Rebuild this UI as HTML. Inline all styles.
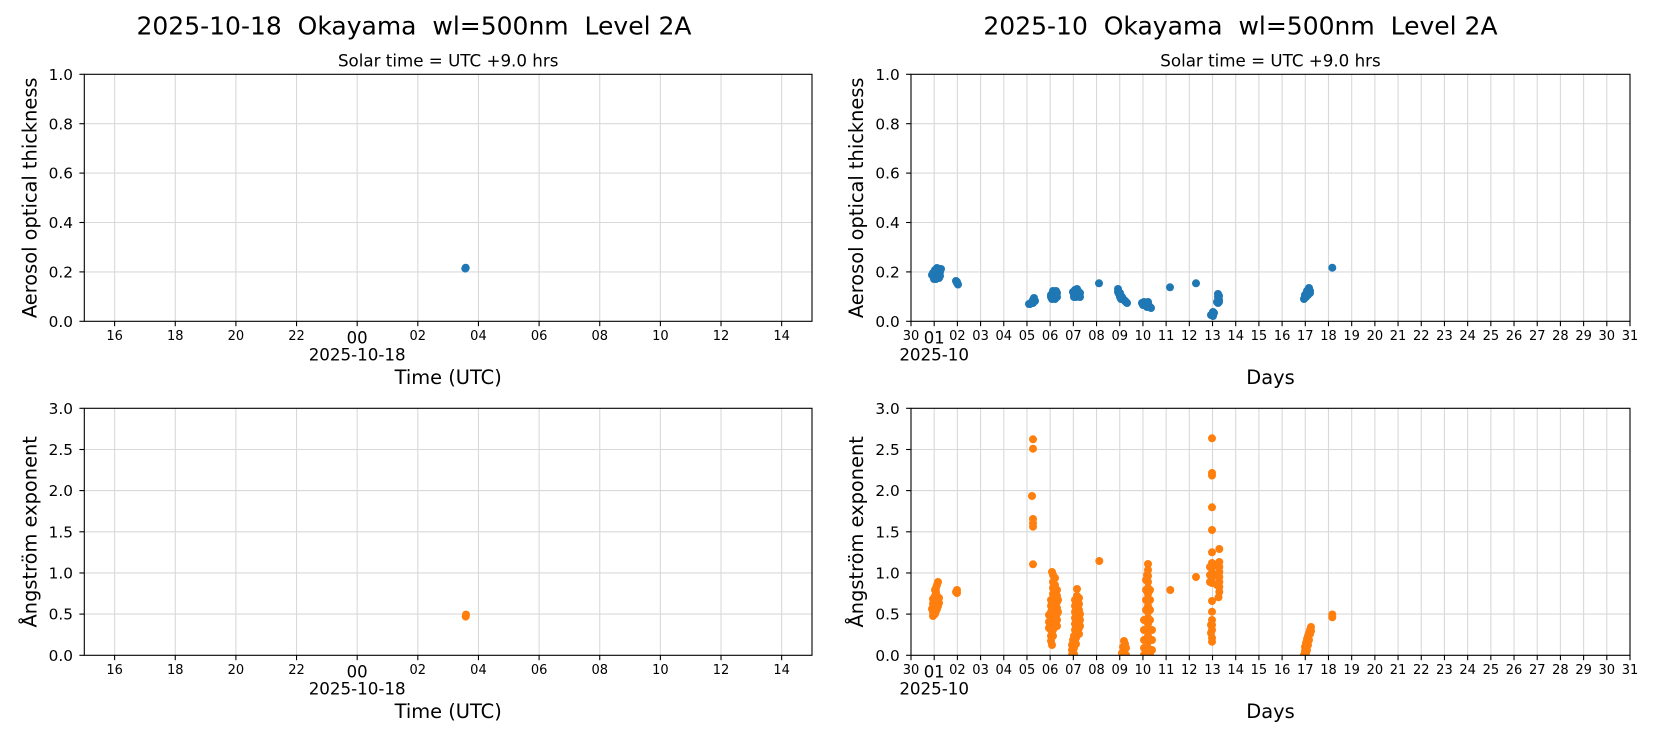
<!DOCTYPE html>
<html><head><meta charset="utf-8"><style>
html,body{margin:0;padding:0;background:#fff;}
svg{display:block;}
text{font-family:"DejaVu Sans","Liberation Sans",sans-serif;fill:#000;}
.s{font-size:13px;text-anchor:middle;}
.m{font-size:16.5px;text-anchor:middle;}
.d{font-size:16.7px;text-anchor:middle;}
.y{font-size:15.3px;text-anchor:end;}
.al{font-size:19.4px;text-anchor:middle;}
.st{font-size:16.7px;text-anchor:middle;}
.t{font-size:25px;text-anchor:middle;}
.g line{stroke:#d9d9d9;stroke-width:1.1;}
.k line{stroke:#000;stroke-width:1.1;}
.sp{fill:none;stroke:#000;stroke-width:1.1;}
</style></head><body>
<svg width="1654" height="737" viewBox="0 0 1654 737" xmlns="http://www.w3.org/2000/svg">
<defs>
<clipPath id="cTL"><rect x="84.3" y="74.3" width="727.7" height="247"/></clipPath>
<clipPath id="cTR"><rect x="911" y="74.3" width="719" height="247"/></clipPath>
<clipPath id="cBL"><rect x="84.3" y="408.3" width="727.7" height="247"/></clipPath>
<clipPath id="cBR"><rect x="911" y="408.3" width="719" height="247"/></clipPath>
</defs>

<text class="t" x="414" y="34.3" xml:space="preserve">2025-10-18  Okayama  wl=500nm  Level 2A</text>
<text class="t" x="1240.5" y="34.3" xml:space="preserve">2025-10  Okayama  wl=500nm  Level 2A</text>
<text class="st" x="448.2" y="66.7">Solar time = UTC +9.0 hrs</text>
<text class="st" x="1270.5" y="66.7">Solar time = UTC +9.0 hrs</text>

<g class="g">
<line x1="114.62" y1="74.3" x2="114.62" y2="321.3"/><line x1="175.26" y1="74.3" x2="175.26" y2="321.3"/><line x1="235.9" y1="74.3" x2="235.9" y2="321.3"/><line x1="296.54" y1="74.3" x2="296.54" y2="321.3"/><line x1="357.18" y1="74.3" x2="357.18" y2="321.3"/><line x1="417.82" y1="74.3" x2="417.82" y2="321.3"/><line x1="478.46" y1="74.3" x2="478.46" y2="321.3"/><line x1="539.1" y1="74.3" x2="539.1" y2="321.3"/><line x1="599.74" y1="74.3" x2="599.74" y2="321.3"/><line x1="660.38" y1="74.3" x2="660.38" y2="321.3"/><line x1="721.02" y1="74.3" x2="721.02" y2="321.3"/><line x1="781.66" y1="74.3" x2="781.66" y2="321.3"/>
<line x1="114.62" y1="408.3" x2="114.62" y2="655.3"/><line x1="175.26" y1="408.3" x2="175.26" y2="655.3"/><line x1="235.9" y1="408.3" x2="235.9" y2="655.3"/><line x1="296.54" y1="408.3" x2="296.54" y2="655.3"/><line x1="357.18" y1="408.3" x2="357.18" y2="655.3"/><line x1="417.82" y1="408.3" x2="417.82" y2="655.3"/><line x1="478.46" y1="408.3" x2="478.46" y2="655.3"/><line x1="539.1" y1="408.3" x2="539.1" y2="655.3"/><line x1="599.74" y1="408.3" x2="599.74" y2="655.3"/><line x1="660.38" y1="408.3" x2="660.38" y2="655.3"/><line x1="721.02" y1="408.3" x2="721.02" y2="655.3"/><line x1="781.66" y1="408.3" x2="781.66" y2="655.3"/>
<line x1="84.3" y1="271.9" x2="812" y2="271.9"/><line x1="84.3" y1="222.5" x2="812" y2="222.5"/><line x1="84.3" y1="173.1" x2="812" y2="173.1"/><line x1="84.3" y1="123.7" x2="812" y2="123.7"/>
<line x1="84.3" y1="614.1" x2="812" y2="614.1"/><line x1="84.3" y1="572.97" x2="812" y2="572.97"/><line x1="84.3" y1="531.8" x2="812" y2="531.8"/><line x1="84.3" y1="490.6" x2="812" y2="490.6"/><line x1="84.3" y1="449.5" x2="812" y2="449.5"/>
<line x1="911" y1="271.9" x2="1630" y2="271.9"/><line x1="911" y1="222.5" x2="1630" y2="222.5"/><line x1="911" y1="173.1" x2="1630" y2="173.1"/><line x1="911" y1="123.7" x2="1630" y2="123.7"/>
<line x1="911" y1="614.1" x2="1630" y2="614.1"/><line x1="911" y1="572.97" x2="1630" y2="572.97"/><line x1="911" y1="531.8" x2="1630" y2="531.8"/><line x1="911" y1="490.6" x2="1630" y2="490.6"/><line x1="911" y1="449.5" x2="1630" y2="449.5"/>
<line x1="934.19" y1="74.3" x2="934.19" y2="321.3"/><line x1="957.39" y1="74.3" x2="957.39" y2="321.3"/><line x1="980.58" y1="74.3" x2="980.58" y2="321.3"/><line x1="1003.77" y1="74.3" x2="1003.77" y2="321.3"/><line x1="1026.97" y1="74.3" x2="1026.97" y2="321.3"/><line x1="1050.16" y1="74.3" x2="1050.16" y2="321.3"/><line x1="1073.35" y1="74.3" x2="1073.35" y2="321.3"/><line x1="1096.55" y1="74.3" x2="1096.55" y2="321.3"/><line x1="1119.74" y1="74.3" x2="1119.74" y2="321.3"/><line x1="1142.94" y1="74.3" x2="1142.94" y2="321.3"/><line x1="1166.13" y1="74.3" x2="1166.13" y2="321.3"/><line x1="1189.32" y1="74.3" x2="1189.32" y2="321.3"/><line x1="1212.52" y1="74.3" x2="1212.52" y2="321.3"/><line x1="1235.71" y1="74.3" x2="1235.71" y2="321.3"/><line x1="1258.9" y1="74.3" x2="1258.9" y2="321.3"/><line x1="1282.1" y1="74.3" x2="1282.1" y2="321.3"/><line x1="1305.29" y1="74.3" x2="1305.29" y2="321.3"/><line x1="1328.48" y1="74.3" x2="1328.48" y2="321.3"/><line x1="1351.68" y1="74.3" x2="1351.68" y2="321.3"/><line x1="1374.87" y1="74.3" x2="1374.87" y2="321.3"/><line x1="1398.06" y1="74.3" x2="1398.06" y2="321.3"/><line x1="1421.26" y1="74.3" x2="1421.26" y2="321.3"/><line x1="1444.45" y1="74.3" x2="1444.45" y2="321.3"/><line x1="1467.65" y1="74.3" x2="1467.65" y2="321.3"/><line x1="1490.84" y1="74.3" x2="1490.84" y2="321.3"/><line x1="1514.03" y1="74.3" x2="1514.03" y2="321.3"/><line x1="1537.23" y1="74.3" x2="1537.23" y2="321.3"/><line x1="1560.42" y1="74.3" x2="1560.42" y2="321.3"/><line x1="1583.61" y1="74.3" x2="1583.61" y2="321.3"/><line x1="1606.81" y1="74.3" x2="1606.81" y2="321.3"/>
<line x1="934.19" y1="408.3" x2="934.19" y2="655.3"/><line x1="957.39" y1="408.3" x2="957.39" y2="655.3"/><line x1="980.58" y1="408.3" x2="980.58" y2="655.3"/><line x1="1003.77" y1="408.3" x2="1003.77" y2="655.3"/><line x1="1026.97" y1="408.3" x2="1026.97" y2="655.3"/><line x1="1050.16" y1="408.3" x2="1050.16" y2="655.3"/><line x1="1073.35" y1="408.3" x2="1073.35" y2="655.3"/><line x1="1096.55" y1="408.3" x2="1096.55" y2="655.3"/><line x1="1119.74" y1="408.3" x2="1119.74" y2="655.3"/><line x1="1142.94" y1="408.3" x2="1142.94" y2="655.3"/><line x1="1166.13" y1="408.3" x2="1166.13" y2="655.3"/><line x1="1189.32" y1="408.3" x2="1189.32" y2="655.3"/><line x1="1212.52" y1="408.3" x2="1212.52" y2="655.3"/><line x1="1235.71" y1="408.3" x2="1235.71" y2="655.3"/><line x1="1258.9" y1="408.3" x2="1258.9" y2="655.3"/><line x1="1282.1" y1="408.3" x2="1282.1" y2="655.3"/><line x1="1305.29" y1="408.3" x2="1305.29" y2="655.3"/><line x1="1328.48" y1="408.3" x2="1328.48" y2="655.3"/><line x1="1351.68" y1="408.3" x2="1351.68" y2="655.3"/><line x1="1374.87" y1="408.3" x2="1374.87" y2="655.3"/><line x1="1398.06" y1="408.3" x2="1398.06" y2="655.3"/><line x1="1421.26" y1="408.3" x2="1421.26" y2="655.3"/><line x1="1444.45" y1="408.3" x2="1444.45" y2="655.3"/><line x1="1467.65" y1="408.3" x2="1467.65" y2="655.3"/><line x1="1490.84" y1="408.3" x2="1490.84" y2="655.3"/><line x1="1514.03" y1="408.3" x2="1514.03" y2="655.3"/><line x1="1537.23" y1="408.3" x2="1537.23" y2="655.3"/><line x1="1560.42" y1="408.3" x2="1560.42" y2="655.3"/><line x1="1583.61" y1="408.3" x2="1583.61" y2="655.3"/><line x1="1606.81" y1="408.3" x2="1606.81" y2="655.3"/>
</g>

<g fill="#1f77b4" clip-path="url(#cTL)">
<circle cx="465.7" cy="267.7" r="4"/><circle cx="465.3" cy="268.6" r="4"/>
</g>
<g fill="#ff7f0e" clip-path="url(#cBL)">
<circle cx="465.7" cy="616.6" r="4"/><circle cx="466" cy="614.6" r="4"/>
</g>

<g fill="#1f77b4" clip-path="url(#cTR)">
<circle cx="933" cy="273" r="4"/><circle cx="934" cy="276" r="4"/><circle cx="935" cy="270" r="4"/><circle cx="936" cy="274" r="4"/><circle cx="937" cy="277" r="4"/><circle cx="938" cy="271" r="4"/><circle cx="939" cy="269" r="4"/><circle cx="940" cy="272" r="4"/><circle cx="936" cy="279" r="4"/><circle cx="939" cy="278" r="4"/><circle cx="932" cy="275" r="4"/><circle cx="941" cy="269" r="4"/><circle cx="934" cy="279" r="4"/><circle cx="938" cy="275" r="4"/><circle cx="937" cy="268" r="4"/><circle cx="940" cy="276" r="4"/>
<circle cx="956" cy="281" r="4"/><circle cx="957" cy="283" r="4"/><circle cx="958" cy="284.5" r="4"/><circle cx="957" cy="282" r="4"/>
<circle cx="1030" cy="304" r="4"/><circle cx="1032" cy="302" r="4"/><circle cx="1033" cy="300" r="4"/><circle cx="1034" cy="298" r="4"/><circle cx="1035" cy="301" r="4"/><circle cx="1033" cy="303" r="4"/><circle cx="1031" cy="303" r="4"/><circle cx="1029" cy="304" r="4"/>
<circle cx="1051" cy="297" r="4"/><circle cx="1052" cy="294" r="4"/><circle cx="1053" cy="291" r="4"/><circle cx="1054" cy="295" r="4"/><circle cx="1055" cy="292" r="4"/><circle cx="1056" cy="296" r="4"/><circle cx="1057" cy="293" r="4"/><circle cx="1053" cy="298" r="4"/><circle cx="1055" cy="299" r="4"/><circle cx="1057" cy="297" r="4"/><circle cx="1052" cy="299" r="4"/><circle cx="1051" cy="295" r="4"/><circle cx="1054" cy="292" r="4"/><circle cx="1056" cy="291" r="4"/>
<circle cx="1073" cy="292" r="4"/><circle cx="1074" cy="295" r="4"/><circle cx="1075" cy="290" r="4"/><circle cx="1076" cy="293" r="4"/><circle cx="1077" cy="296" r="4"/><circle cx="1078" cy="291" r="4"/><circle cx="1079" cy="294" r="4"/><circle cx="1080" cy="297" r="4"/><circle cx="1076" cy="297" r="4"/><circle cx="1074" cy="297" r="4"/><circle cx="1077" cy="289" r="4"/><circle cx="1080" cy="293" r="4"/>
<circle cx="1099" cy="283.3" r="4"/>
<circle cx="1118" cy="289" r="4"/><circle cx="1118" cy="292" r="4"/><circle cx="1119" cy="294" r="4"/><circle cx="1120" cy="293" r="4"/><circle cx="1121" cy="296" r="4"/><circle cx="1122" cy="297" r="4"/><circle cx="1123" cy="299" r="4"/><circle cx="1124" cy="300" r="4"/><circle cx="1125" cy="301" r="4"/><circle cx="1126" cy="302" r="4"/><circle cx="1127" cy="303" r="4"/><circle cx="1121" cy="299" r="4"/><circle cx="1120" cy="297" r="4"/>
<circle cx="1142" cy="303" r="4"/><circle cx="1144" cy="302" r="4"/><circle cx="1146" cy="303" r="4"/><circle cx="1148" cy="304" r="4"/><circle cx="1149" cy="306" r="4"/><circle cx="1150" cy="307" r="4"/><circle cx="1151" cy="308" r="4"/><circle cx="1147" cy="307" r="4"/><circle cx="1145" cy="305" r="4"/><circle cx="1143" cy="305" r="4"/><circle cx="1148" cy="302" r="4"/>
<circle cx="1170" cy="287.3" r="4"/><circle cx="1196" cy="283.3" r="4"/>
<circle cx="1212" cy="315" r="4"/><circle cx="1213" cy="312" r="4"/><circle cx="1213" cy="316" r="4"/><circle cx="1211" cy="315" r="4"/><circle cx="1214" cy="313" r="4"/>
<circle cx="1218" cy="294" r="4"/><circle cx="1218" cy="297" r="4"/><circle cx="1219" cy="300" r="4"/><circle cx="1218" cy="303" r="4"/><circle cx="1219" cy="302" r="4"/><circle cx="1217" cy="302" r="4"/><circle cx="1219" cy="296" r="4"/>
<circle cx="1304" cy="299" r="4"/><circle cx="1305" cy="297" r="4"/><circle cx="1305" cy="295" r="4"/><circle cx="1306" cy="294" r="4"/><circle cx="1307" cy="293" r="4"/><circle cx="1307" cy="291" r="4"/><circle cx="1308" cy="290" r="4"/><circle cx="1309" cy="289" r="4"/><circle cx="1309" cy="288" r="4"/><circle cx="1310" cy="291" r="4"/><circle cx="1308" cy="295" r="4"/><circle cx="1306" cy="297" r="4"/><circle cx="1310" cy="293" r="4"/>
<circle cx="1332.3" cy="267.7" r="4"/>
</g>

<g fill="#ff7f0e" clip-path="url(#cBR)">
<circle cx="933" cy="616" r="4"/><circle cx="933" cy="612" r="4"/><circle cx="934" cy="608" r="4"/><circle cx="933" cy="604" r="4"/><circle cx="934" cy="600" r="4"/><circle cx="935" cy="596" r="4"/><circle cx="936" cy="592" r="4"/><circle cx="936" cy="588" r="4"/><circle cx="937" cy="585" r="4"/><circle cx="938" cy="582" r="4"/><circle cx="937" cy="596" r="4"/><circle cx="938" cy="600" r="4"/><circle cx="939" cy="603" r="4"/><circle cx="938" cy="606" r="4"/><circle cx="935" cy="614" r="4"/><circle cx="936" cy="611" r="4"/><circle cx="934" cy="602" r="4"/><circle cx="935" cy="590" r="4"/><circle cx="936" cy="605" r="4"/><circle cx="937" cy="609" r="4"/><circle cx="932" cy="609" r="4"/><circle cx="933" cy="599" r="4"/><circle cx="939" cy="598" r="4"/>
<circle cx="957" cy="590" r="4"/><circle cx="957" cy="593" r="4"/><circle cx="956" cy="592" r="4"/>
<circle cx="1033" cy="439.3" r="4"/><circle cx="1033" cy="448.7" r="4"/><circle cx="1032" cy="496" r="4"/><circle cx="1033" cy="519" r="4"/><circle cx="1033" cy="523.3" r="4"/><circle cx="1033" cy="526.7" r="4"/><circle cx="1033" cy="564.3" r="4"/>
<circle cx="1051" cy="600" r="4"/><circle cx="1051" cy="606" r="4"/><circle cx="1051" cy="612" r="4"/><circle cx="1051" cy="618" r="4"/><circle cx="1051" cy="624" r="4"/><circle cx="1051" cy="630" r="4"/><circle cx="1051" cy="636" r="4"/><circle cx="1051" cy="641" r="4"/>
<circle cx="1053" cy="575" r="4"/><circle cx="1053" cy="582" r="4"/><circle cx="1053" cy="588" r="4"/><circle cx="1053" cy="594" r="4"/><circle cx="1053" cy="600" r="4"/><circle cx="1053" cy="606" r="4"/><circle cx="1053" cy="612" r="4"/><circle cx="1053" cy="618" r="4"/><circle cx="1053" cy="624" r="4"/><circle cx="1053" cy="630" r="4"/><circle cx="1053" cy="636" r="4"/>
<circle cx="1055" cy="578" r="4"/><circle cx="1055" cy="585" r="4"/><circle cx="1055" cy="591" r="4"/><circle cx="1055" cy="597" r="4"/><circle cx="1055" cy="603" r="4"/><circle cx="1055" cy="609" r="4"/><circle cx="1055" cy="615" r="4"/><circle cx="1055" cy="621" r="4"/><circle cx="1055" cy="627" r="4"/>
<circle cx="1057" cy="590" r="4"/><circle cx="1057" cy="596" r="4"/><circle cx="1057" cy="602" r="4"/><circle cx="1057" cy="608" r="4"/><circle cx="1057" cy="614" r="4"/><circle cx="1057" cy="620" r="4"/><circle cx="1057" cy="626" r="4"/>
<circle cx="1052" cy="572" r="4"/><circle cx="1052" cy="645" r="4"/><circle cx="1049" cy="615" r="4"/><circle cx="1049" cy="622" r="4"/><circle cx="1049" cy="628" r="4"/><circle cx="1058" cy="600" r="4"/><circle cx="1058" cy="612" r="4"/>
<circle cx="1077" cy="589" r="4"/><circle cx="1077" cy="596" r="4"/>
<circle cx="1075" cy="600" r="4"/><circle cx="1075" cy="606" r="4"/><circle cx="1075" cy="612" r="4"/><circle cx="1075" cy="618" r="4"/><circle cx="1075" cy="624" r="4"/><circle cx="1075" cy="630" r="4"/>
<circle cx="1077" cy="602" r="4"/><circle cx="1077" cy="608" r="4"/><circle cx="1077" cy="614" r="4"/><circle cx="1077" cy="620" r="4"/><circle cx="1077" cy="626" r="4"/><circle cx="1077" cy="632" r="4"/>
<circle cx="1079" cy="598" r="4"/><circle cx="1079" cy="604" r="4"/><circle cx="1079" cy="610" r="4"/><circle cx="1079" cy="616" r="4"/><circle cx="1079" cy="622" r="4"/><circle cx="1079" cy="628" r="4"/><circle cx="1079" cy="634" r="4"/>
<circle cx="1080" cy="614" r="4"/><circle cx="1080" cy="620" r="4"/><circle cx="1080" cy="626" r="4"/>
<circle cx="1074" cy="636" r="4"/><circle cx="1074" cy="642" r="4"/><circle cx="1074" cy="648" r="4"/><circle cx="1074" cy="654" r="4"/><circle cx="1072" cy="645" r="4"/><circle cx="1072" cy="650" r="4"/><circle cx="1072" cy="655" r="4"/><circle cx="1076" cy="638" r="4"/><circle cx="1076" cy="644" r="4"/><circle cx="1073" cy="640" r="4"/>
<circle cx="1099.3" cy="561" r="4"/>
<circle cx="1124" cy="641" r="4"/><circle cx="1125" cy="644" r="4"/><circle cx="1123" cy="647" r="4"/><circle cx="1124" cy="650" r="4"/><circle cx="1122" cy="653" r="4"/><circle cx="1126" cy="648" r="4"/><circle cx="1124" cy="655" r="4"/><circle cx="1126" cy="655" r="4"/>
<circle cx="1148" cy="564" r="4"/><circle cx="1148" cy="570" r="4"/><circle cx="1148" cy="576" r="4"/><circle cx="1148" cy="582" r="4"/><circle cx="1148" cy="588" r="4"/><circle cx="1148" cy="594" r="4"/><circle cx="1148" cy="600" r="4"/><circle cx="1148" cy="606" r="4"/><circle cx="1148" cy="612" r="4"/><circle cx="1148" cy="618" r="4"/><circle cx="1148" cy="624" r="4"/><circle cx="1148" cy="630" r="4"/><circle cx="1148" cy="636" r="4"/><circle cx="1148" cy="642" r="4"/><circle cx="1148" cy="648" r="4"/><circle cx="1148" cy="654" r="4"/>
<circle cx="1146" cy="580" r="4"/><circle cx="1146" cy="590" r="4"/><circle cx="1146" cy="600" r="4"/><circle cx="1146" cy="610" r="4"/><circle cx="1146" cy="620" r="4"/><circle cx="1146" cy="630" r="4"/><circle cx="1146" cy="640" r="4"/><circle cx="1146" cy="650" r="4"/><circle cx="1146" cy="655" r="4"/>
<circle cx="1150" cy="590" r="4"/><circle cx="1150" cy="600" r="4"/><circle cx="1150" cy="610" r="4"/><circle cx="1150" cy="620" r="4"/><circle cx="1150" cy="630" r="4"/><circle cx="1150" cy="640" r="4"/><circle cx="1150" cy="650" r="4"/><circle cx="1150" cy="655" r="4"/>
<circle cx="1144" cy="620" r="4"/><circle cx="1144" cy="630" r="4"/><circle cx="1144" cy="640" r="4"/><circle cx="1144" cy="648" r="4"/><circle cx="1144" cy="655" r="4"/><circle cx="1152" cy="630" r="4"/><circle cx="1152" cy="640" r="4"/><circle cx="1152" cy="650" r="4"/><circle cx="1147" cy="575" r="4"/>
<circle cx="1170.3" cy="590" r="4"/><circle cx="1196" cy="577" r="4"/>
<circle cx="1212" cy="438.3" r="4"/><circle cx="1212" cy="473" r="4"/><circle cx="1212" cy="475.5" r="4"/><circle cx="1212" cy="507.3" r="4"/><circle cx="1212" cy="530" r="4"/><circle cx="1212" cy="552.3" r="4"/><circle cx="1212" cy="563" r="4"/><circle cx="1212" cy="568" r="4"/><circle cx="1212" cy="573" r="4"/><circle cx="1212" cy="578" r="4"/><circle cx="1212" cy="583" r="4"/><circle cx="1212" cy="601" r="4"/><circle cx="1212" cy="611.7" r="4"/><circle cx="1212" cy="620" r="4"/><circle cx="1212" cy="625" r="4"/><circle cx="1212" cy="630" r="4"/><circle cx="1212" cy="638" r="4"/><circle cx="1212" cy="641.7" r="4"/>
<circle cx="1210" cy="567" r="4"/><circle cx="1210" cy="575" r="4"/><circle cx="1210" cy="582" r="4"/><circle cx="1211" cy="625" r="4"/><circle cx="1211" cy="633" r="4"/>
<circle cx="1219.3" cy="549" r="4"/><circle cx="1219.3" cy="562" r="4"/><circle cx="1219.3" cy="567" r="4"/><circle cx="1219.3" cy="572" r="4"/><circle cx="1219.3" cy="577" r="4"/><circle cx="1219.3" cy="582" r="4"/><circle cx="1219.3" cy="587" r="4"/><circle cx="1219.3" cy="592" r="4"/><circle cx="1218.5" cy="597.3" r="4"/><circle cx="1217" cy="565" r="4"/><circle cx="1217" cy="575" r="4"/><circle cx="1217" cy="585" r="4"/>
<circle cx="1304" cy="655" r="4"/><circle cx="1305" cy="651" r="4"/><circle cx="1305" cy="647" r="4"/><circle cx="1306" cy="643" r="4"/><circle cx="1307" cy="639" r="4"/><circle cx="1308" cy="636" r="4"/><circle cx="1309" cy="633" r="4"/><circle cx="1310" cy="630" r="4"/><circle cx="1311" cy="627" r="4"/><circle cx="1310" cy="634" r="4"/><circle cx="1309" cy="640" r="4"/><circle cx="1308" cy="645" r="4"/><circle cx="1307" cy="650" r="4"/><circle cx="1306" cy="653" r="4"/><circle cx="1311" cy="631" r="4"/>
<circle cx="1332.3" cy="617.3" r="4"/><circle cx="1332.3" cy="614.5" r="4"/>
</g>

<rect class="sp" x="84.3" y="74.3" width="727.7" height="247"/>
<rect class="sp" x="911" y="74.3" width="719" height="247"/>
<rect class="sp" x="84.3" y="408.3" width="727.7" height="247"/>
<rect class="sp" x="911" y="408.3" width="719" height="247"/>

<g class="k">
<line x1="79.4" y1="321.3" x2="84.3" y2="321.3"/><line x1="79.4" y1="271.9" x2="84.3" y2="271.9"/><line x1="79.4" y1="222.5" x2="84.3" y2="222.5"/><line x1="79.4" y1="173.1" x2="84.3" y2="173.1"/><line x1="79.4" y1="123.7" x2="84.3" y2="123.7"/><line x1="79.4" y1="74.3" x2="84.3" y2="74.3"/>
<line x1="906.1" y1="321.3" x2="911" y2="321.3"/><line x1="906.1" y1="271.9" x2="911" y2="271.9"/><line x1="906.1" y1="222.5" x2="911" y2="222.5"/><line x1="906.1" y1="173.1" x2="911" y2="173.1"/><line x1="906.1" y1="123.7" x2="911" y2="123.7"/><line x1="906.1" y1="74.3" x2="911" y2="74.3"/>
<line x1="79.4" y1="655.3" x2="84.3" y2="655.3"/><line x1="79.4" y1="614.1" x2="84.3" y2="614.1"/><line x1="79.4" y1="572.97" x2="84.3" y2="572.97"/><line x1="79.4" y1="531.8" x2="84.3" y2="531.8"/><line x1="79.4" y1="490.6" x2="84.3" y2="490.6"/><line x1="79.4" y1="449.5" x2="84.3" y2="449.5"/><line x1="79.4" y1="408.3" x2="84.3" y2="408.3"/>
<line x1="906.1" y1="655.3" x2="911" y2="655.3"/><line x1="906.1" y1="614.1" x2="911" y2="614.1"/><line x1="906.1" y1="572.97" x2="911" y2="572.97"/><line x1="906.1" y1="531.8" x2="911" y2="531.8"/><line x1="906.1" y1="490.6" x2="911" y2="490.6"/><line x1="906.1" y1="449.5" x2="911" y2="449.5"/><line x1="906.1" y1="408.3" x2="911" y2="408.3"/>
<line x1="114.62" y1="321.3" x2="114.62" y2="326.2"/><line x1="175.26" y1="321.3" x2="175.26" y2="326.2"/><line x1="235.9" y1="321.3" x2="235.9" y2="326.2"/><line x1="296.54" y1="321.3" x2="296.54" y2="326.2"/><line x1="357.18" y1="321.3" x2="357.18" y2="326.2"/><line x1="417.82" y1="321.3" x2="417.82" y2="326.2"/><line x1="478.46" y1="321.3" x2="478.46" y2="326.2"/><line x1="539.1" y1="321.3" x2="539.1" y2="326.2"/><line x1="599.74" y1="321.3" x2="599.74" y2="326.2"/><line x1="660.38" y1="321.3" x2="660.38" y2="326.2"/><line x1="721.02" y1="321.3" x2="721.02" y2="326.2"/><line x1="781.66" y1="321.3" x2="781.66" y2="326.2"/>
<line x1="114.62" y1="655.3" x2="114.62" y2="660.2"/><line x1="175.26" y1="655.3" x2="175.26" y2="660.2"/><line x1="235.9" y1="655.3" x2="235.9" y2="660.2"/><line x1="296.54" y1="655.3" x2="296.54" y2="660.2"/><line x1="357.18" y1="655.3" x2="357.18" y2="660.2"/><line x1="417.82" y1="655.3" x2="417.82" y2="660.2"/><line x1="478.46" y1="655.3" x2="478.46" y2="660.2"/><line x1="539.1" y1="655.3" x2="539.1" y2="660.2"/><line x1="599.74" y1="655.3" x2="599.74" y2="660.2"/><line x1="660.38" y1="655.3" x2="660.38" y2="660.2"/><line x1="721.02" y1="655.3" x2="721.02" y2="660.2"/><line x1="781.66" y1="655.3" x2="781.66" y2="660.2"/>
<line x1="911" y1="321.3" x2="911" y2="326.2"/><line x1="934.19" y1="321.3" x2="934.19" y2="326.2"/><line x1="957.39" y1="321.3" x2="957.39" y2="326.2"/><line x1="980.58" y1="321.3" x2="980.58" y2="326.2"/><line x1="1003.77" y1="321.3" x2="1003.77" y2="326.2"/><line x1="1026.97" y1="321.3" x2="1026.97" y2="326.2"/><line x1="1050.16" y1="321.3" x2="1050.16" y2="326.2"/><line x1="1073.35" y1="321.3" x2="1073.35" y2="326.2"/><line x1="1096.55" y1="321.3" x2="1096.55" y2="326.2"/><line x1="1119.74" y1="321.3" x2="1119.74" y2="326.2"/><line x1="1142.94" y1="321.3" x2="1142.94" y2="326.2"/><line x1="1166.13" y1="321.3" x2="1166.13" y2="326.2"/><line x1="1189.32" y1="321.3" x2="1189.32" y2="326.2"/><line x1="1212.52" y1="321.3" x2="1212.52" y2="326.2"/><line x1="1235.71" y1="321.3" x2="1235.71" y2="326.2"/><line x1="1258.9" y1="321.3" x2="1258.9" y2="326.2"/><line x1="1282.1" y1="321.3" x2="1282.1" y2="326.2"/><line x1="1305.29" y1="321.3" x2="1305.29" y2="326.2"/><line x1="1328.48" y1="321.3" x2="1328.48" y2="326.2"/><line x1="1351.68" y1="321.3" x2="1351.68" y2="326.2"/><line x1="1374.87" y1="321.3" x2="1374.87" y2="326.2"/><line x1="1398.06" y1="321.3" x2="1398.06" y2="326.2"/><line x1="1421.26" y1="321.3" x2="1421.26" y2="326.2"/><line x1="1444.45" y1="321.3" x2="1444.45" y2="326.2"/><line x1="1467.65" y1="321.3" x2="1467.65" y2="326.2"/><line x1="1490.84" y1="321.3" x2="1490.84" y2="326.2"/><line x1="1514.03" y1="321.3" x2="1514.03" y2="326.2"/><line x1="1537.23" y1="321.3" x2="1537.23" y2="326.2"/><line x1="1560.42" y1="321.3" x2="1560.42" y2="326.2"/><line x1="1583.61" y1="321.3" x2="1583.61" y2="326.2"/><line x1="1606.81" y1="321.3" x2="1606.81" y2="326.2"/><line x1="1630" y1="321.3" x2="1630" y2="326.2"/>
<line x1="911" y1="655.3" x2="911" y2="660.2"/><line x1="934.19" y1="655.3" x2="934.19" y2="660.2"/><line x1="957.39" y1="655.3" x2="957.39" y2="660.2"/><line x1="980.58" y1="655.3" x2="980.58" y2="660.2"/><line x1="1003.77" y1="655.3" x2="1003.77" y2="660.2"/><line x1="1026.97" y1="655.3" x2="1026.97" y2="660.2"/><line x1="1050.16" y1="655.3" x2="1050.16" y2="660.2"/><line x1="1073.35" y1="655.3" x2="1073.35" y2="660.2"/><line x1="1096.55" y1="655.3" x2="1096.55" y2="660.2"/><line x1="1119.74" y1="655.3" x2="1119.74" y2="660.2"/><line x1="1142.94" y1="655.3" x2="1142.94" y2="660.2"/><line x1="1166.13" y1="655.3" x2="1166.13" y2="660.2"/><line x1="1189.32" y1="655.3" x2="1189.32" y2="660.2"/><line x1="1212.52" y1="655.3" x2="1212.52" y2="660.2"/><line x1="1235.71" y1="655.3" x2="1235.71" y2="660.2"/><line x1="1258.9" y1="655.3" x2="1258.9" y2="660.2"/><line x1="1282.1" y1="655.3" x2="1282.1" y2="660.2"/><line x1="1305.29" y1="655.3" x2="1305.29" y2="660.2"/><line x1="1328.48" y1="655.3" x2="1328.48" y2="660.2"/><line x1="1351.68" y1="655.3" x2="1351.68" y2="660.2"/><line x1="1374.87" y1="655.3" x2="1374.87" y2="660.2"/><line x1="1398.06" y1="655.3" x2="1398.06" y2="660.2"/><line x1="1421.26" y1="655.3" x2="1421.26" y2="660.2"/><line x1="1444.45" y1="655.3" x2="1444.45" y2="660.2"/><line x1="1467.65" y1="655.3" x2="1467.65" y2="660.2"/><line x1="1490.84" y1="655.3" x2="1490.84" y2="660.2"/><line x1="1514.03" y1="655.3" x2="1514.03" y2="660.2"/><line x1="1537.23" y1="655.3" x2="1537.23" y2="660.2"/><line x1="1560.42" y1="655.3" x2="1560.42" y2="660.2"/><line x1="1583.61" y1="655.3" x2="1583.61" y2="660.2"/><line x1="1606.81" y1="655.3" x2="1606.81" y2="660.2"/><line x1="1630" y1="655.3" x2="1630" y2="660.2"/>
</g>

<text class="y" x="73" y="326.9">0.0</text><text class="y" x="73" y="277.5">0.2</text><text class="y" x="73" y="228.1">0.4</text><text class="y" x="73" y="178.7">0.6</text><text class="y" x="73" y="129.3">0.8</text><text class="y" x="73" y="79.9">1.0</text>
<text class="y" x="899.7" y="326.9">0.0</text><text class="y" x="899.7" y="277.5">0.2</text><text class="y" x="899.7" y="228.1">0.4</text><text class="y" x="899.7" y="178.7">0.6</text><text class="y" x="899.7" y="129.3">0.8</text><text class="y" x="899.7" y="79.9">1.0</text>
<text class="y" x="73" y="660.9">0.0</text><text class="y" x="73" y="619.7">0.5</text><text class="y" x="73" y="578.6">1.0</text><text class="y" x="73" y="537.4">1.5</text><text class="y" x="73" y="496.2">2.0</text><text class="y" x="73" y="455.1">2.5</text><text class="y" x="73" y="413.9">3.0</text>
<text class="y" x="899.7" y="660.9">0.0</text><text class="y" x="899.7" y="619.7">0.5</text><text class="y" x="899.7" y="578.6">1.0</text><text class="y" x="899.7" y="537.4">1.5</text><text class="y" x="899.7" y="496.2">2.0</text><text class="y" x="899.7" y="455.1">2.5</text><text class="y" x="899.7" y="413.9">3.0</text>

<text class="s" x="114.62" y="340">16</text><text class="s" x="175.26" y="340">18</text><text class="s" x="235.9" y="340">20</text><text class="s" x="296.54" y="340">22</text><text class="m" x="357.18" y="343.5">00</text><text class="s" x="417.82" y="340">02</text><text class="s" x="478.46" y="340">04</text><text class="s" x="539.1" y="340">06</text><text class="s" x="599.74" y="340">08</text><text class="s" x="660.38" y="340">10</text><text class="s" x="721.02" y="340">12</text><text class="s" x="781.66" y="340">14</text>
<text class="d" x="357.18" y="360.3">2025-10-18</text>
<text class="al" x="448.2" y="384">Time (UTC)</text>
<text class="s" x="114.62" y="674">16</text><text class="s" x="175.26" y="674">18</text><text class="s" x="235.9" y="674">20</text><text class="s" x="296.54" y="674">22</text><text class="m" x="357.18" y="677.5">00</text><text class="s" x="417.82" y="674">02</text><text class="s" x="478.46" y="674">04</text><text class="s" x="539.1" y="674">06</text><text class="s" x="599.74" y="674">08</text><text class="s" x="660.38" y="674">10</text><text class="s" x="721.02" y="674">12</text><text class="s" x="781.66" y="674">14</text>
<text class="d" x="357.18" y="694.3">2025-10-18</text>
<text class="al" x="448.2" y="718">Time (UTC)</text>

<text class="s" x="911" y="340">30</text><text class="m" x="934.19" y="343.5">01</text><text class="s" x="957.39" y="340">02</text><text class="s" x="980.58" y="340">03</text><text class="s" x="1003.77" y="340">04</text><text class="s" x="1026.97" y="340">05</text><text class="s" x="1050.16" y="340">06</text><text class="s" x="1073.35" y="340">07</text><text class="s" x="1096.55" y="340">08</text><text class="s" x="1119.74" y="340">09</text><text class="s" x="1142.94" y="340">10</text><text class="s" x="1166.13" y="340">11</text><text class="s" x="1189.32" y="340">12</text><text class="s" x="1212.52" y="340">13</text><text class="s" x="1235.71" y="340">14</text><text class="s" x="1258.9" y="340">15</text><text class="s" x="1282.1" y="340">16</text><text class="s" x="1305.29" y="340">17</text><text class="s" x="1328.48" y="340">18</text><text class="s" x="1351.68" y="340">19</text><text class="s" x="1374.87" y="340">20</text><text class="s" x="1398.06" y="340">21</text><text class="s" x="1421.26" y="340">22</text><text class="s" x="1444.45" y="340">23</text><text class="s" x="1467.65" y="340">24</text><text class="s" x="1490.84" y="340">25</text><text class="s" x="1514.03" y="340">26</text><text class="s" x="1537.23" y="340">27</text><text class="s" x="1560.42" y="340">28</text><text class="s" x="1583.61" y="340">29</text><text class="s" x="1606.81" y="340">30</text><text class="s" x="1630" y="340">31</text>
<text class="d" x="934.19" y="360.3">2025-10</text>
<text class="al" x="1270.5" y="384">Days</text>

<text class="s" x="911" y="674">30</text><text class="m" x="934.19" y="677.5">01</text><text class="s" x="957.39" y="674">02</text><text class="s" x="980.58" y="674">03</text><text class="s" x="1003.77" y="674">04</text><text class="s" x="1026.97" y="674">05</text><text class="s" x="1050.16" y="674">06</text><text class="s" x="1073.35" y="674">07</text><text class="s" x="1096.55" y="674">08</text><text class="s" x="1119.74" y="674">09</text><text class="s" x="1142.94" y="674">10</text><text class="s" x="1166.13" y="674">11</text><text class="s" x="1189.32" y="674">12</text><text class="s" x="1212.52" y="674">13</text><text class="s" x="1235.71" y="674">14</text><text class="s" x="1258.9" y="674">15</text><text class="s" x="1282.1" y="674">16</text><text class="s" x="1305.29" y="674">17</text><text class="s" x="1328.48" y="674">18</text><text class="s" x="1351.68" y="674">19</text><text class="s" x="1374.87" y="674">20</text><text class="s" x="1398.06" y="674">21</text><text class="s" x="1421.26" y="674">22</text><text class="s" x="1444.45" y="674">23</text><text class="s" x="1467.65" y="674">24</text><text class="s" x="1490.84" y="674">25</text><text class="s" x="1514.03" y="674">26</text><text class="s" x="1537.23" y="674">27</text><text class="s" x="1560.42" y="674">28</text><text class="s" x="1583.61" y="674">29</text><text class="s" x="1606.81" y="674">30</text><text class="s" x="1630" y="674">31</text>
<text class="d" x="934.19" y="694.3">2025-10</text>
<text class="al" x="1270.5" y="718">Days</text>

<text class="al" transform="translate(36.5,197.8) rotate(-90)">Aerosol optical thickness</text>
<text class="al" transform="translate(863.2,197.8) rotate(-90)">Aerosol optical thickness</text>
<text class="al" transform="translate(36.5,531.8) rotate(-90)">Ångström exponent</text>
<text class="al" transform="translate(863.2,531.8) rotate(-90)">Ångström exponent</text>
</svg>
</body></html>
